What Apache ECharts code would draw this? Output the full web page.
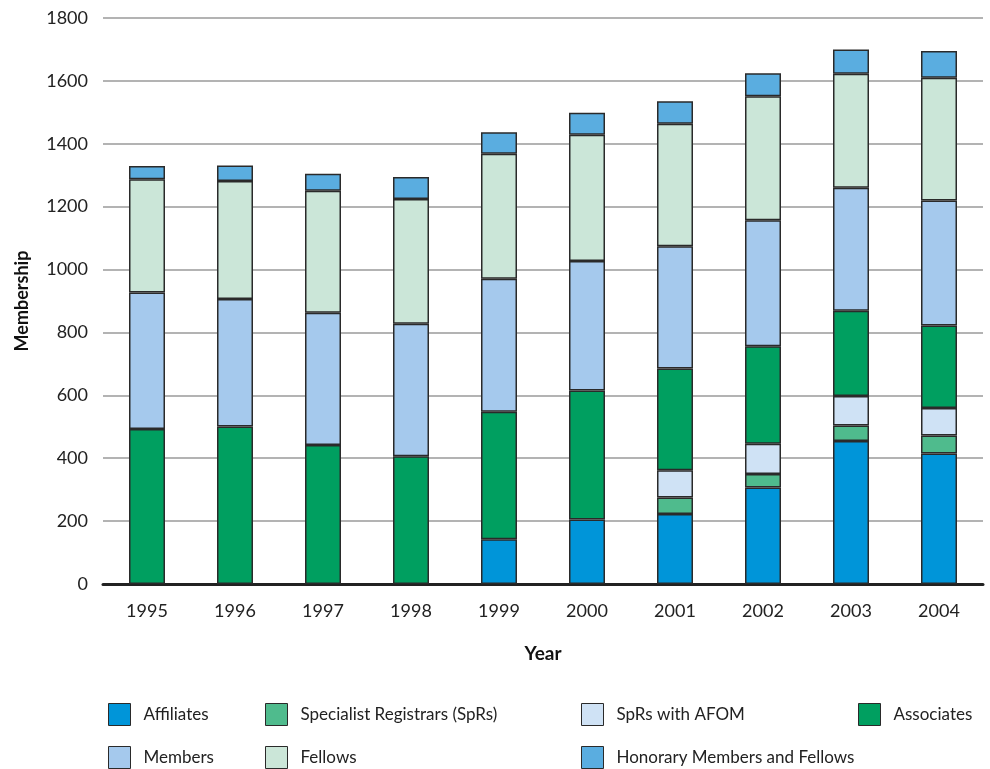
<!DOCTYPE html>
<html>
<head>
<meta charset="utf-8">
<script src="https://cdn.jsdelivr.net/npm/echarts@6/dist/echarts.min.js"></script>
<style>
  html, body { margin: 0; padding: 0; background: #fff; }
  #chart { width: 990px; height: 769px; }
</style>
</head>
<body>
<div id="chart"></div>
<script>
// 年份
const years = ['1995', '1996', '1997', '1998', '1999', '2000', '2001', '2002', '2003', '2004']
const yTicks = [0, 200, 400, 600, 800, 1000, 1200, 1400, 1600, 1800]

// 各类会员人数（从下往上堆叠）
const affiliates = [null, null, null, null, 142, 205, 223, 307, 455, 415]
const sprs = [null, null, null, null, null, null, 52, 43, 49, 57]
const sprsAfom = [null, null, null, null, null, null, 87, 96, 94, 88]
const associates = [493, 501, 442, 406, 406, 410, 323, 310, 271, 262]
const members = [434, 405, 421, 422, 423, 412, 389, 401, 391, 398]
const fellows = [360, 376, 388, 396, 397, 402, 390, 394, 363, 390]
const honorary = [42, 49, 54, 70, 69, 70, 71, 73, 77, 85]

const seriesDefs = [
  { name: 'Affiliates', data: affiliates, color: '#0095d9' },
  { name: 'Specialist Registrars (SpRs)', data: sprs, color: '#4fbb8d' },
  { name: 'SpRs with AFOM', data: sprsAfom, color: '#cfe2f5' },
  { name: 'Associates', data: associates, color: '#009f60' },
  { name: 'Members', data: members, color: '#a5c9ed' },
  { name: 'Fellows', data: fellows, color: '#cbe6d8' },
  { name: 'Honorary Members and Fellows', data: honorary, color: '#5aade0' },
]

// 图例位置（两行四列）
const legendPos = [
  [108, 703], [265, 703], [581, 703], [858, 703],
  [108, 746], [265, 746], [581, 746],
]

const font = 'Lato, "Noto Sans", sans-serif'

let mycharts = echarts.init(document.getElementById('chart'))
mycharts.setOption({
  animation: false,
  textStyle: { fontFamily: font },
  grid: { left: 103, right: 7, top: 18, bottom: 185 },
  xAxis: {
    type: 'category',
    data: years,
    name: 'Year',
    nameLocation: 'middle',
    nameGap: 60,
    nameTextStyle: { fontSize: 19, fontWeight: 'bold', color: '#111' },
    axisLine: { lineStyle: { color: '#222', width: 3 } },
    axisTick: { show: false },
    axisLabel: { fontSize: 18, color: '#222', margin: 18 },
  },
  yAxis: {
    type: 'value',
    min: 0,
    max: 1800,
    interval: 200,
    name: 'Membership',
    nameLocation: 'middle',
    nameGap: 72,
    nameTextStyle: { fontSize: 18, fontWeight: 'bold', color: '#111' },
    axisLine: { show: false },
    axisTick: { show: false },
    splitLine: { lineStyle: { color: '#b3b3b3', width: 2 } },
    axisLabel: {
      fontSize: 18, color: '#222', margin: 15,
      formatter: v => (yTicks.includes(v) ? String(v) : ''),
    },
  },
  legend: seriesDefs.map((s, i) => ({
    data: [{ name: s.name, icon: 'rect' }],
    left: legendPos[i][0],
    top: legendPos[i][1],
    itemWidth: 22,
    itemHeight: 22,
    itemGap: 0,
    padding: 0,
    selectedMode: false,
    itemStyle: { borderColor: '#2a2a2a', borderWidth: 1 },
    textStyle: { fontSize: 17, color: '#222', padding: [0, 0, 0, 8] },
  })),
  series: seriesDefs.map(s => ({
    name: s.name,
    type: 'bar',
    stack: 'total',
    barWidth: 36,
    data: s.data,
    itemStyle: { color: s.color, borderColor: '#2a2a2a', borderWidth: 1.5 },
  })),
})
</script>
</body>
</html>
